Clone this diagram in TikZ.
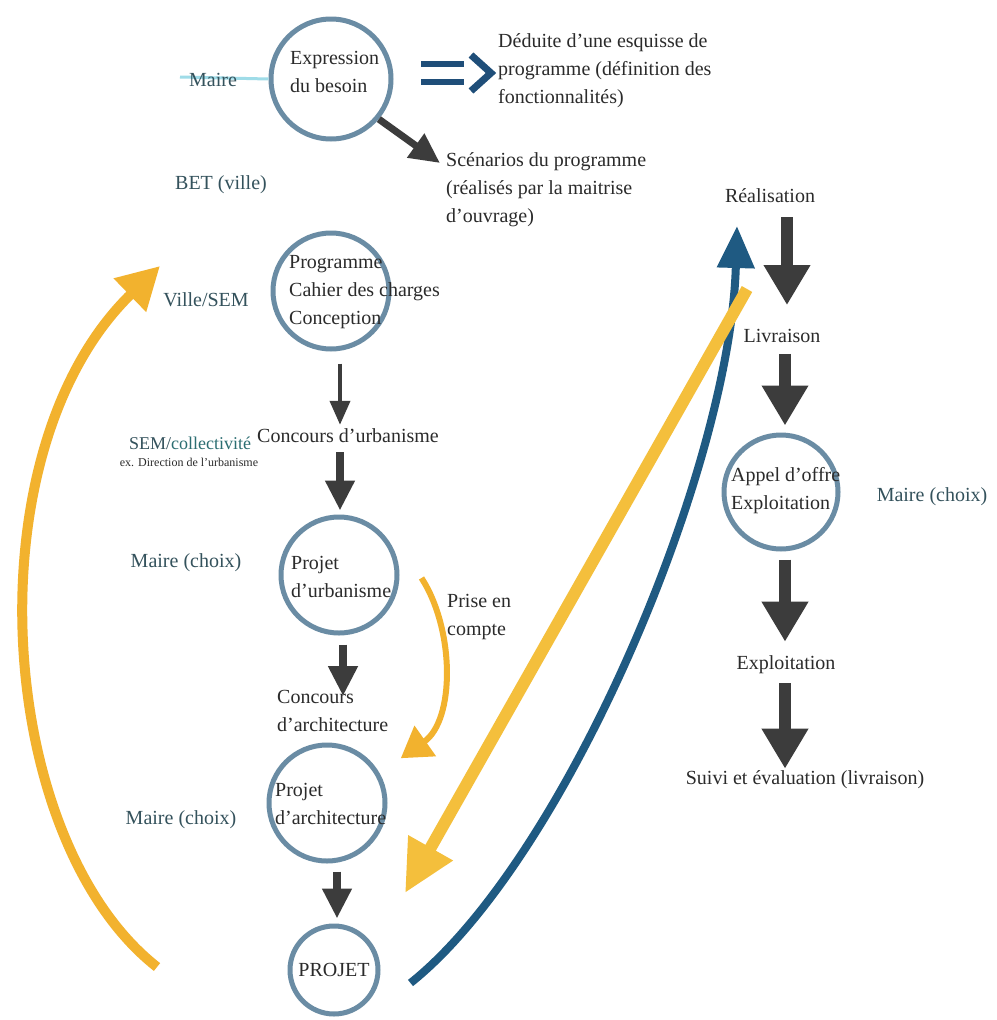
\documentclass[tikz,border=0pt]{standalone}
\usepackage{fontspec}
\setmainfont{Liberation Serif}
\usetikzlibrary{arrows.meta,calc}
\definecolor{ringc}{HTML}{6A8CA4}
\definecolor{txtc}{HTML}{2B2B2B}
\definecolor{rolec}{HTML}{34525C}
\definecolor{tealc}{HTML}{2C6E72}
\definecolor{garr}{HTML}{3C3C3C}
\definecolor{ylw}{HTML}{F2B22E}
\definecolor{ylwb}{HTML}{F4BF3C}
\definecolor{dblue}{HTML}{1F5A82}
\definecolor{navyc}{HTML}{1F4E79}
\definecolor{hlc}{HTML}{9FDCE8}
\begin{document}
\begin{tikzpicture}[x=1pt,y=-1pt,
  ring/.style={circle, draw=ringc, line width=5pt, minimum size=#1, inner sep=0pt},
  lbl/.style={font=\fontsize{20}{28}\selectfont, text=txtc, inner sep=0pt, align=left},
  role/.style={font=\fontsize{20}{28}\selectfont, text=rolec, inner sep=0pt},
  thinarrow/.style={draw=garr, line width=4pt, -{Triangle[width=20pt,length=24pt]}},
  midarrow/.style={draw=garr, line width=8pt, -{Triangle[width=28pt,length=30pt]}},
  blockarrow/.style={draw=garr, line width=12pt, -{Triangle[width=44pt,length=40pt]}},
  yarrow/.style={draw=ylw, line width=#1},
]
\fill[white] (0,0) rectangle (996,1020);
\useasboundingbox (0,0) rectangle (996,1020);

% circles and their texts
\node[ring=120pt] (c1) at (331,79) {};
\node[lbl, anchor=west] (t1) at (290,72) {Expression\\du besoin};
\node[ring=116pt] (c2) at (331,291) {};
\node[lbl, anchor=west] (t2) at (289,292) {Programme\\Cahier des charges\\Conception};
\node[ring=116pt] (c3) at (339,575) {};
\node[lbl, anchor=west] (t3) at (291,577) {Projet\\d'urbanisme};
\node[ring=116pt] (c4) at (327,803) {};
\node[lbl, anchor=west] (t4) at (275,804) {Projet\\d'architecture};
\node[ring=88pt] (c5) at (334,970) {};
\node[lbl] (t5) at (334,970) {PROJET};
\node[ring=114pt] (c6) at (781,492) {};
\node[lbl, anchor=west] (t6) at (731,491) {Appel d'offre\\Exploitation};

% big yellow return arrow (behind labels)
\coordinate (ys) at (157,967);
\coordinate (ye) at (160,266);
\draw[yarrow=10pt, -{Triangle[width=44pt,length=42pt]}] (ys) .. controls (-5,840) and (-30,450) .. (ye);

% Maire with highlight line
\coordinate (mstart) at (180,77);
\draw[hlc, line width=3pt] (mstart) -- (c1.west);
\node[role] (m1) at (213,80) {Maire};

% other texts
\node[lbl, anchor=west] (ded) at (498,71) {Déduite d'une esquisse de\\programme (définition des\\fonctionnalités)};
\node[lbl, anchor=west] (scen) at (446,190) {Scénarios du programme\\(réalisés par la maitrise\\d'ouvrage)};
\node[role] (bet) at (221,185) {BET (ville)};
\node[role] (ville) at (206,300) {Ville/SEM};
\node[lbl] (conc) at (348,436) {Concours d'urbanisme};
\node[role, font=\fontsize{18}{22}\selectfont] (sem) at (190,443) {SEM/\textcolor{tealc}{collectivité}};
\node[font=\fontsize{12}{14}\selectfont, text=txtc, inner sep=0pt] (semsub) at (189,462) {ex. Direction de l'urbanisme};
\node[role] (m2) at (186,563) {Maire (choix)};
\node[lbl, anchor=west] (prise) at (447,617) {Prise en\\compte};
\node[lbl, anchor=west] (carch) at (277,711) {Concours\\d'architecture};
\node[role] (m3) at (181,820) {Maire (choix)};
\node[lbl] (real) at (770,196) {Réalisation};
\node[lbl] (livr) at (782,336) {Livraison};
\node[role] (m4) at (932,497) {Maire (choix)};
\node[lbl] (expl) at (786,665) {Exploitation};
\node[lbl] (suivi) at (805,780) {Suivi et évaluation (livraison)};

% double arrow (implies)
\coordinate (imp) at (421,73);
\draw[navyc, line width=6pt] ($(imp)+(0,-9)$) -- ++(43,0) ($(imp)+(0,9)$) -- ++(43,0);
\draw[navyc, line width=7pt, line join=miter] ($(imp)+(50,-18)$) -- ++(20,18) -- ++(-20,18);

% dark arrows, left column
\draw[midarrow, line width=7pt] (c1.-40) -- ($(scen.west)+(-6,-27)$);
\draw[thinarrow] ($(c2.south)+(9,12)$) -- ($(conc.north)+(-8,-4)$);
\draw[midarrow] ($(conc.south)+(-8,9)$) -- ($(c3.north)+(1,-4)$);
\draw[midarrow] ($(c3.south)+(4,9)$) -- ($(carch.north west)+(66,6)$);
\draw[midarrow] ($(c4.south)+(10,8)$) -- ($(c5.north)+(3,-5)$);

% block arrows, right column
\draw[blockarrow] ($(real.south)+(17,14)$) -- ($(livr.north)+(5,-24)$);
\draw[blockarrow] ($(livr.south)+(3,11)$) -- ($(c6.north)+(4,-7)$);
\draw[blockarrow] ($(c6.south)+(4,8)$) -- ($(expl.north)+(-1,-14)$);
\draw[blockarrow] ($(expl.south)+(-1,9)$) -- ($(suivi.north)+(-20,-2)$);

% prise en compte arrow
\draw[yarrow=6pt, -{Triangle[width=36pt,length=30pt]}] ($(c3.east)+(22,3)$) .. controls (455,630) and (455,720) .. ($(c4.north east)+(31,-2)$);

% blue arrow
\coordinate (be) at (737,226);
\draw[dblue, line width=8pt, -{Triangle[width=36pt,length=42pt]}] ($(c5.east)+(30,13)$) .. controls (565,860) and (730,470) .. (be);

% straight yellow arrow
\coordinate (ys2) at (747,289);
\coordinate (ye2) at (405,893);
\draw[draw=ylwb, line width=12pt, -{Triangle[width=48pt,length=52pt]}] (ys2) -- (ye2);
\end{tikzpicture}
\end{document}
